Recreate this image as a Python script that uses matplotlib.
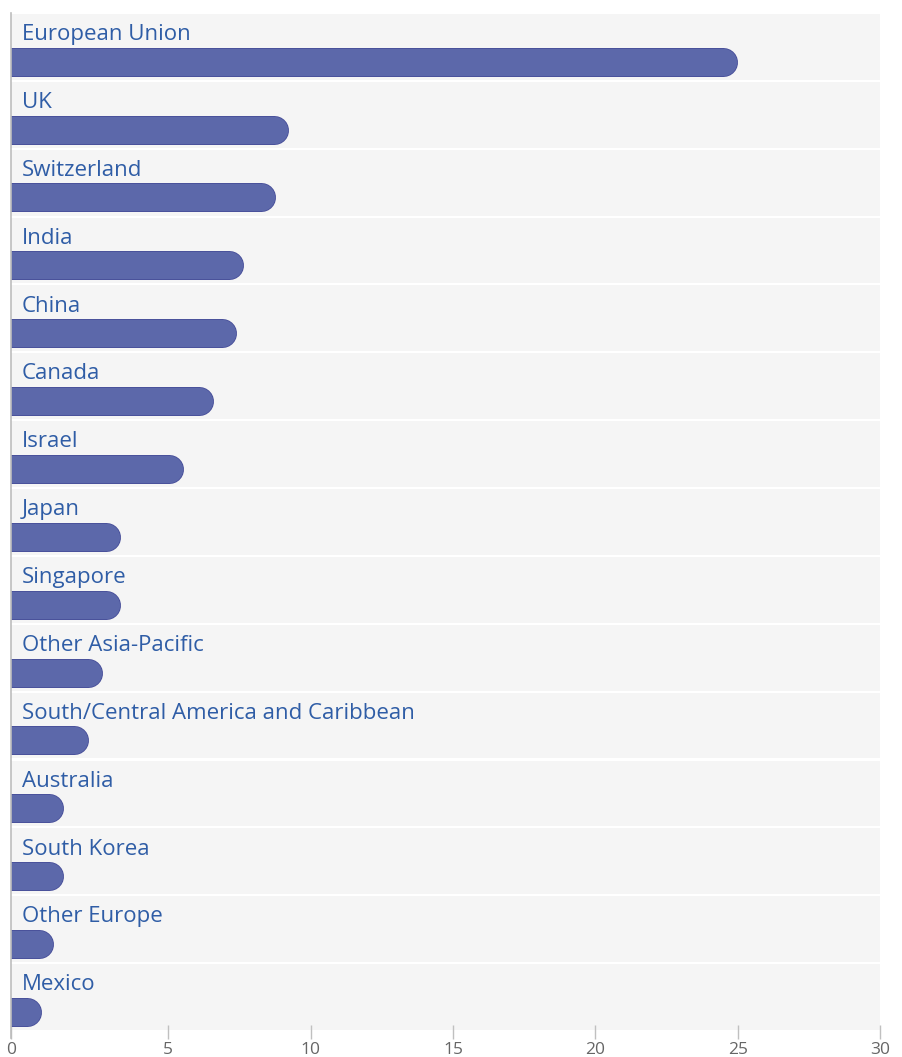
import matplotlib

matplotlib.use("Agg")
import matplotlib.pyplot as plt
import matplotlib.patheffects as pe
import matplotlib.transforms as mtransforms

# Values (bar end = value).
COUNTRIES = [
    "European Union", "UK", "Switzerland", "India", "China", "Canada", "Israel",
    "Japan", "Singapore", "Other Asia-Pacific",
    "South/Central America and Caribbean", "Australia", "South Korea",
    "Other Europe", "Mexico",
]
VALUES = [25.0, 9.23, 8.75, 7.65, 7.41, 6.57, 5.53, 3.33, 3.33, 2.70,
          2.21, 1.30, 1.30, 0.98, 0.55]
XTICKS = [5, 10, 15, 20, 25, 30]

BAR_FILL = "#5c68aa"
BAR_EDGE = "#474e99"
LABEL_COLOR = "#2f5da6"
BAND_COLOR = "#f5f5f5"

plt.rcParams["font.family"] = ["Open Sans", "DejaVu Sans"]

W, H, DPI = 903, 1057, 100
fig = plt.figure(figsize=(W / DPI, H / DPI), dpi=DPI)
ax_left, ax_right, ax_top, ax_bottom = 11, 880, 14, 1032
ax = fig.add_axes([ax_left / W, 1 - ax_bottom / H,
                   (ax_right - ax_left) / W, (ax_bottom - ax_top) / H])

n = len(COUNTRIES)
xmin = -0.527  # axis line sits a little left of the real zero
ax.set_xlim(xmin, 30)
ax.set_ylim(n, 0)

px_per_unit = (ax_right - ax_left) / (30 - xmin)
bar_px = 29
lw = bar_px * 72 / DPI
cap = (bar_px / 2) / px_per_unit
trans = mtransforms.blended_transform_factory(ax.transAxes, ax.transData)

for i, (name, v) in enumerate(zip(COUNTRIES, VALUES)):
    ax.axhspan(i, i + 0.97, color=BAND_COLOR, lw=0, zorder=0)
    yc = i + 0.703
    ax.plot([xmin - cap, v - cap], [yc, yc], color=BAR_FILL, lw=lw - 1.2,
            solid_capstyle="round", zorder=2,
            path_effects=[pe.Stroke(linewidth=lw, foreground=BAR_EDGE),
                          pe.Normal()])
    ax.text(11 / (ax_right - ax_left), i + 0.385, name, transform=trans,
            color=LABEL_COLOR, fontsize=16, va="baseline", ha="left", zorder=3)

for s in ["top", "right", "bottom", "left"]:
    ax.spines[s].set_visible(False)
ax.plot([0, 0], [-0.006, 1.001], transform=ax.transAxes,
        color="#bdbdbd", lw=1.2, clip_on=False, zorder=4)

ax.set_xticks([xmin] + XTICKS)
ax.set_xticklabels(["0"] + [str(t) for t in XTICKS])
ax.tick_params(axis="x", direction="inout", length=10, width=1, color="#c0c0c0",
               labelcolor="#666666", labelsize=12.5, pad=2)
ax.set_yticks([])

fig.savefig("out.png", dpi=DPI, facecolor="white")
